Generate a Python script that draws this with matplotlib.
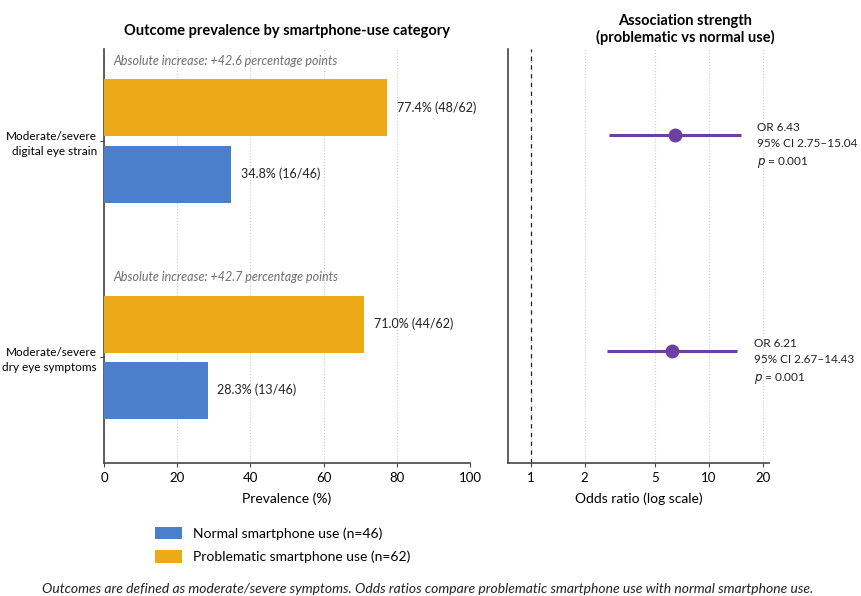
#!/usr/bin/env python3
"""
Prevalence of eye outcomes by smartphone-use group, with odds ratios.
"""
import matplotlib
matplotlib.use("Agg")
import matplotlib.pyplot as plt
from matplotlib.patches import Patch

plt.rcParams["font.family"] = ["Lato", "DejaVu Sans"]

outcomes = ["Moderate/severe\ndigital eye strain", "Moderate/severe\ndry eye symptoms"]
normal_pct = [34.8, 28.3]
normal_n = [16, 13]
problem_pct = [77.4, 71.0]
problem_n = [48, 44]
n_normal = 46
n_problem = 62
abs_increase = [42.6, 42.7]

odds_ratio = [6.43, 6.21]
ci_low = [2.75, 2.67]
ci_high = [15.04, 14.43]
p_values = ["0.001", "0.001"]

BLUE = "#4A7FCC"
ORANGE = "#ECAA19"
PURPLE = "#6E3FA3"
SPINE = "#444444"

fig = plt.figure(figsize=(8.61, 5.96), dpi=100)
ax = fig.add_axes([0.1208, 0.2232, 0.4251, 0.6946])
ax2 = fig.add_axes([0.590, 0.2232, 0.3031, 0.6946])

ypos = list(range(len(outcomes)))
bar_h = 0.264
off = 0.153

ax.barh([y - off for y in ypos], problem_pct, height=bar_h, color=ORANGE, zorder=3)
ax.barh([y + off for y in ypos], normal_pct, height=bar_h, color=BLUE, zorder=3)

for i, y in enumerate(ypos):
    ax.annotate(f"{problem_pct[i]:.1f}% ({problem_n[i]}/{n_problem})",
                (problem_pct[i], y - off), xytext=(7, 0), textcoords="offset points",
                va="center", ha="left", fontsize=9, color="#222222")
    ax.annotate(f"{normal_pct[i]:.1f}% ({normal_n[i]}/{n_normal})",
                (normal_pct[i], y + off), xytext=(7, 0), textcoords="offset points",
                va="center", ha="left", fontsize=9, color="#222222")
    ax.text(2.7, y - 0.37, f"Absolute increase: +{abs_increase[i]:.1f} percentage points",
            style="italic", color="#6f6f6f", fontsize=9, va="center", ha="left")

ax.set_xlim(0, 100)
ax.set_ylim(1.49, -0.426)
ax.set_yticks(ypos)
ax.set_yticklabels(outcomes, fontsize=8.5, multialignment="right", linespacing=1.4)
ax.set_xticks([0, 20, 40, 60, 80, 100])
ax.tick_params(axis="x", labelsize=9.5, length=3, color=SPINE)
ax.tick_params(axis="y", length=3, color=SPINE, pad=2)
ax.set_xlabel("Prevalence (%)", fontsize=10, labelpad=6)
ax.grid(axis="x", linestyle=":", color="#cccccc", linewidth=0.8, zorder=0)
for s in ["top", "right"]:
    ax.spines[s].set_visible(False)
for s in ["left", "bottom"]:
    ax.spines[s].set_color(SPINE)
    ax.spines[s].set_linewidth(1.2)
ax.set_title("Outcome prevalence by smartphone-use category",
             fontsize=10.5, fontweight="bold", pad=10)

# forest plot of odds ratios on a log axis
dy = -0.03
for i, y in enumerate(ypos):
    ax2.plot([ci_low[i], ci_high[i]], [y + dy, y + dy], color=PURPLE, linewidth=2.2,
             solid_capstyle="butt", zorder=3)
    ax2.plot(odds_ratio[i], y + dy, "o", color=PURPLE, markersize=9, zorder=4)
    ax2.annotate(f"OR {odds_ratio[i]:.2f}\n95% CI {ci_low[i]:.2f}\u2013{ci_high[i]:.2f}\n$p$ = {p_values[i]}",
                 (ci_high[i], y + dy), xytext=(12, 9), textcoords="offset points",
                 va="top", ha="left", fontsize=8.5, color="#222222", linespacing=1.55)

ax2.axvline(1, color="#222222", linestyle=(0, (3.5, 3.5)), linewidth=0.9, zorder=2)
ax2.set_xscale("log")
ax2.set_xlim(0.743, 21.7)
ax2.set_ylim(1.49, -0.426)
ax2.set_xticks([1, 2, 5, 10, 20])
ax2.set_xticklabels(["1", "2", "5", "10", "20"])
ax2.minorticks_off()
ax2.set_yticks([])
ax2.tick_params(axis="x", labelsize=9.5, length=3, color=SPINE)
ax2.set_xlabel("Odds ratio (log scale)", fontsize=10, labelpad=6)
ax2.grid(axis="x", linestyle=":", color="#cccccc", linewidth=0.8, zorder=0)
for s in ["top", "right"]:
    ax2.spines[s].set_visible(False)
for s in ["left", "bottom"]:
    ax2.spines[s].set_color(SPINE)
    ax2.spines[s].set_linewidth(1.2)
fig.text(0.7956, 0.9505, "Association strength\n(problematic vs normal use)",
         ha="center", va="center", fontsize=10.5, fontweight="bold", linespacing=1.2)

handles = [Patch(facecolor=BLUE, label=f"Normal smartphone use (n={n_normal})"),
           Patch(facecolor=ORANGE, label=f"Problematic smartphone use (n={n_problem})")]
fig.legend(handles=handles, loc="upper left", bbox_to_anchor=(0.165, 0.137),
           bbox_transform=fig.transFigure, frameon=False, fontsize=10,
           handlelength=2.0, handleheight=1.0, labelspacing=0.75, handletextpad=0.8)

fig.text(0.497, 0.012, "Outcomes are defined as moderate/severe symptoms. Odds ratios compare "
         "problematic smartphone use with normal smartphone use.",
         ha="center", va="center", style="italic", fontsize=10, color="#222222")

fig.savefig("out.png", dpi=100)
